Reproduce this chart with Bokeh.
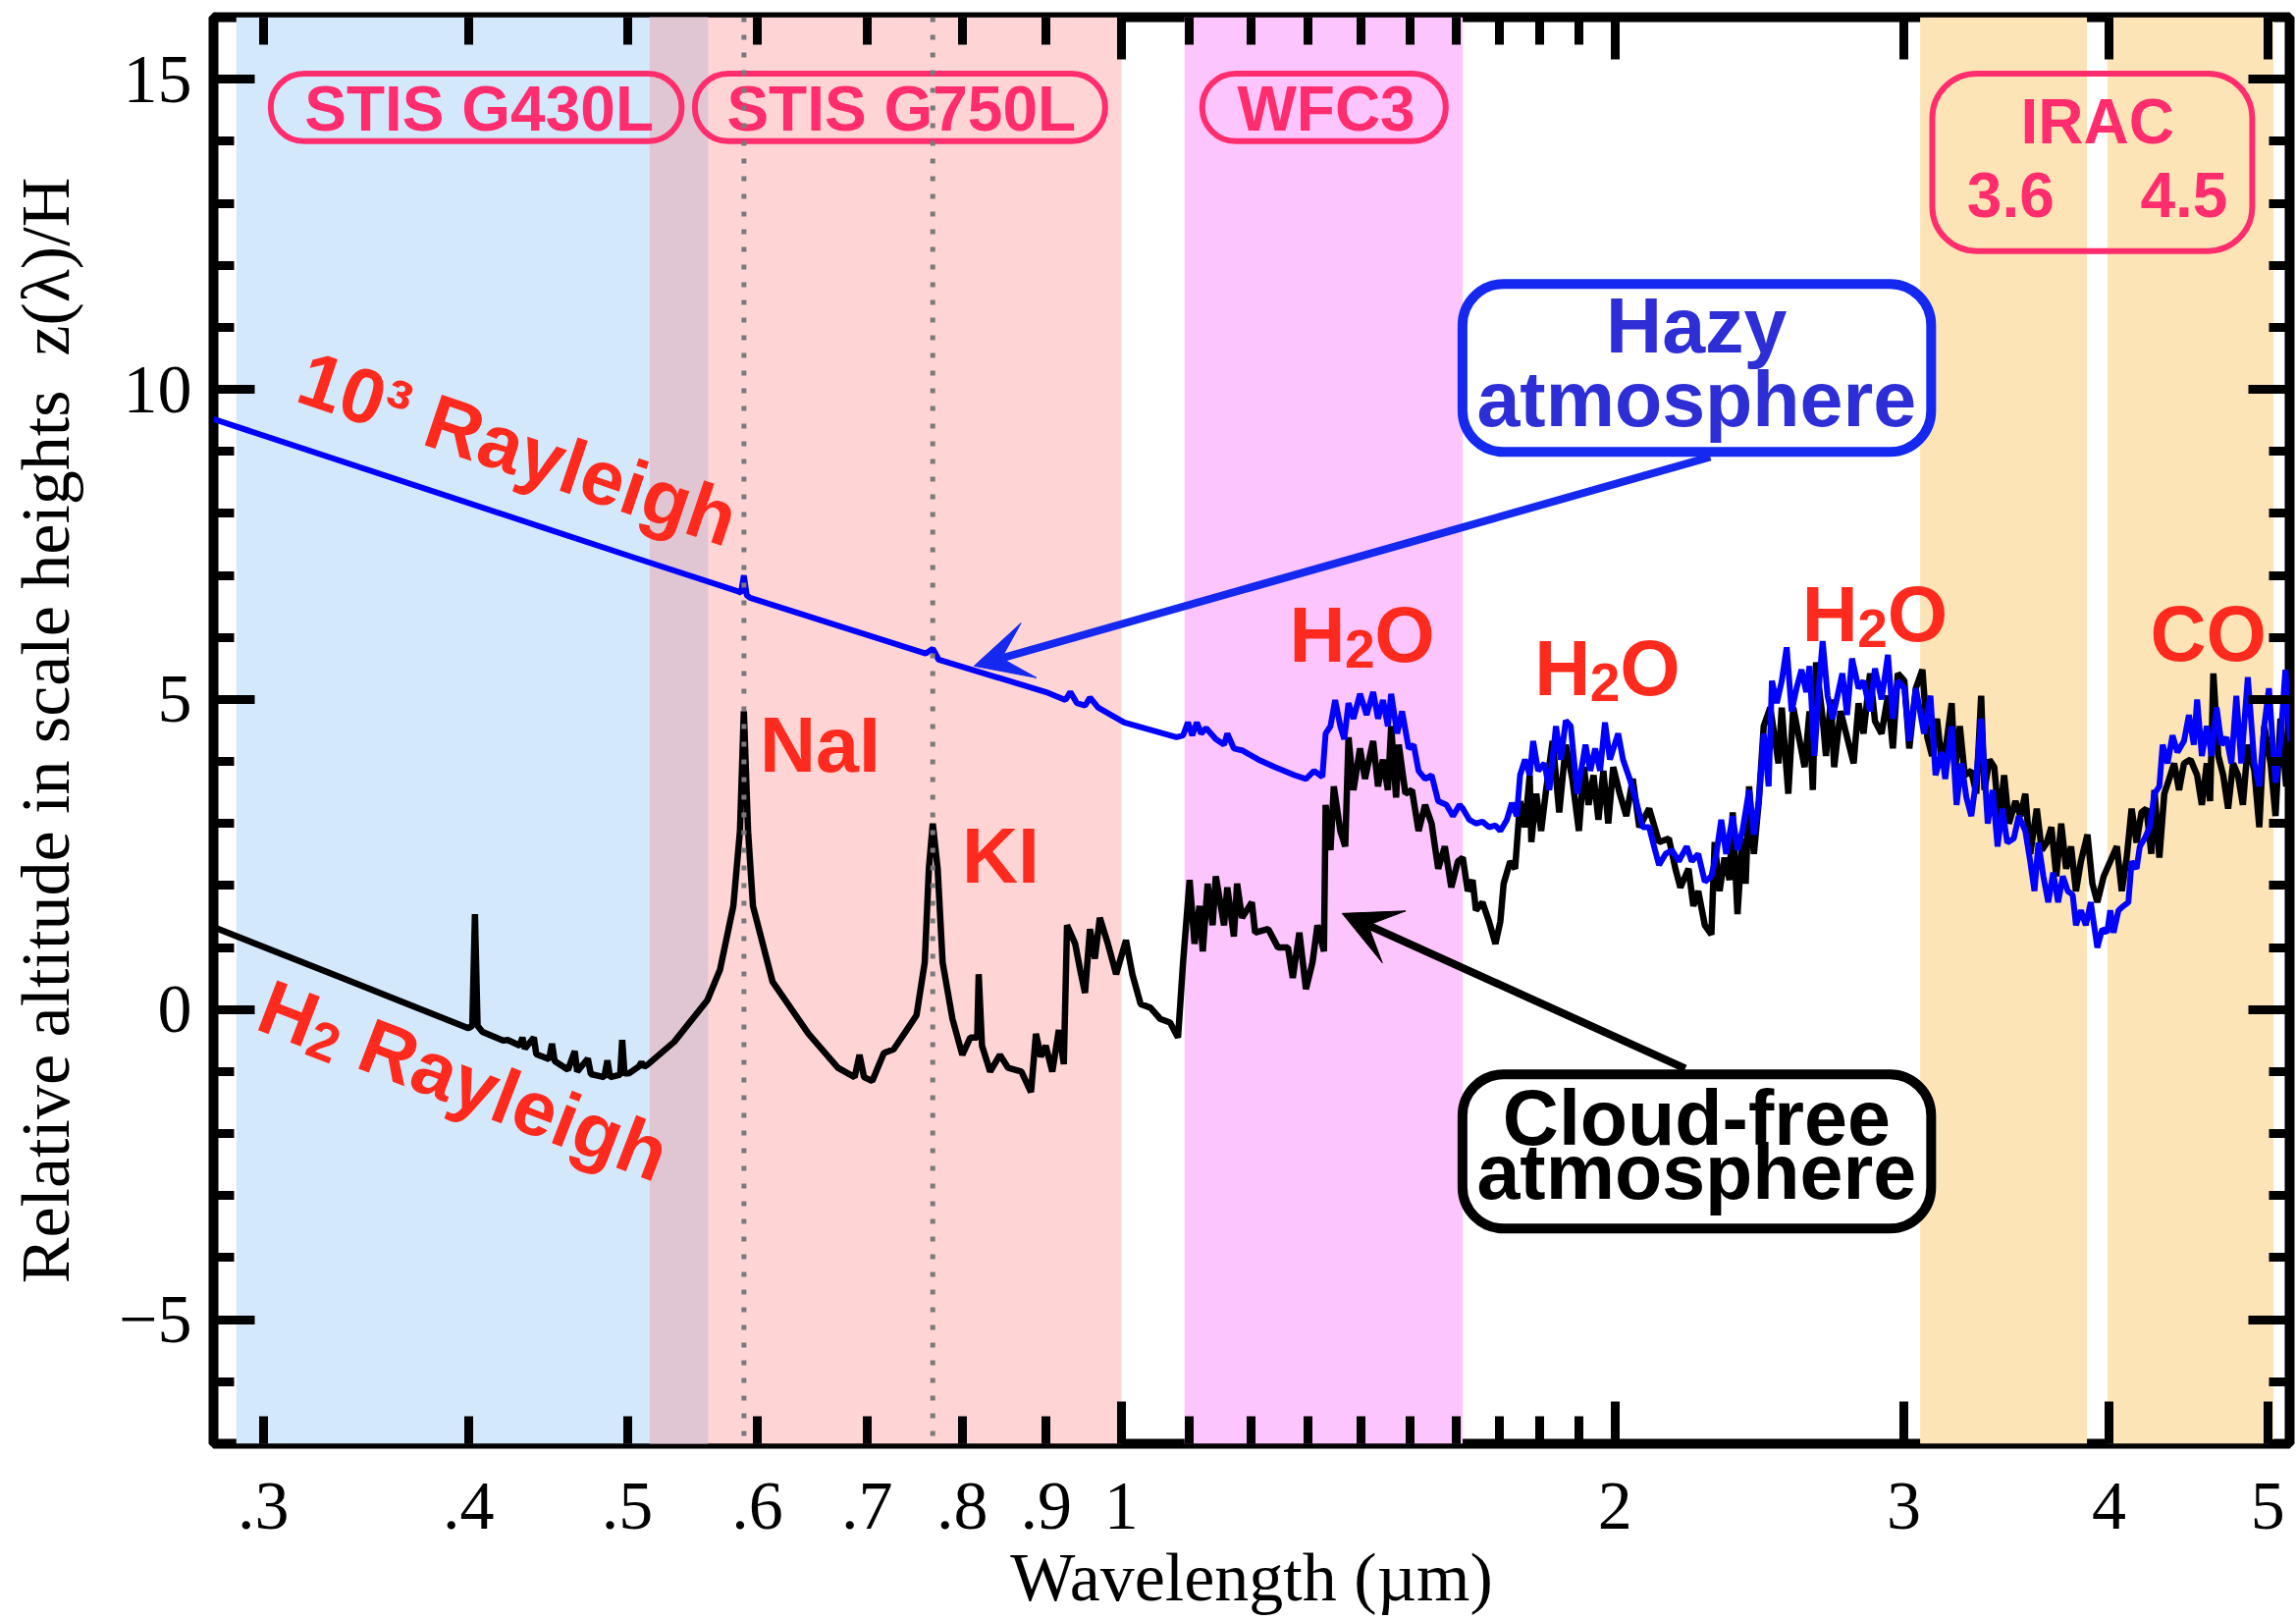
import math

from bokeh.core.properties import value
from bokeh.embed import file_html
from bokeh.models import (Arrow, BoxAnnotation, FixedTicker, LinearAxis, LogAxis,
                          Range1d, Span, VeeHead)
from bokeh.plotting import figure
from bokeh.resources import INLINE

# ---------------------------------------------------------------------------
# Transmission spectra: relative altitude z(lambda)/H versus wavelength (um)
# ---------------------------------------------------------------------------
clear_wavelength = [
    0.2797, 0.335, 0.400, 0.4022, 0.4037, 0.4052, 0.408, 0.4200, 0.4227, 0.4300,
    0.4315, 0.4330, 0.4385, 0.4400, 0.4480, 0.4498, 0.4515, 0.4600, 0.4644, 0.4660,
    0.4730, 0.4750, 0.4840, 0.4862, 0.4880, 0.4950, 0.4964, 0.4980, 0.5010, 0.5080,
    0.5100, 0.5120, 0.5148, 0.5340, 0.5594, 0.5694, 0.5802, 0.5856, 0.5888, 0.5923,
    0.5964, 0.6130, 0.6447, 0.6720, 0.6879, 0.6926, 0.6970, 0.7051, 0.7167, 0.7266,
    0.7400, 0.7503, 0.7590, 0.7634, 0.7676, 0.7729, 0.7783, 0.7891, 0.8001, 0.8092,
    0.8170, 0.8187, 0.8225, 0.8320, 0.8435, 0.8533, 0.8692, 0.8811, 0.8872, 0.8934,
    0.8995, 0.9078, 0.9162, 0.9226, 0.9268, 0.9375, 0.9440, 0.9505, 0.9571, 0.9637,
    0.9704, 0.9815, 0.9929, 1.0067, 1.0158, 1.0276, 1.0419, 1.0563, 1.0710, 1.0830,
    1.0907, 1.1008, 1.1084, 1.1161, 1.1213, 1.1290, 1.1369, 1.1420, 1.1553, 1.1606,
    1.1713, 1.1766, 1.1848, 1.2013, 1.2068, 1.2292, 1.2463, 1.2637, 1.2723, 1.2841,
    1.2960, 1.3080, 1.3171, 1.3292, 1.3323, 1.3415, 1.3477, 1.3601, 1.3695, 1.3758,
    1.3854, 1.3982, 1.4079, 1.4242, 1.4340, 1.4440, 1.4540, 1.4607, 1.4708, 1.4764,
    1.4902, 1.5040, 1.5179, 1.5320, 1.5460, 1.5604, 1.5749, 1.5894, 1.6041, 1.6152,
    1.6264, 1.6376, 1.6452, 1.6604, 1.6758, 1.6909, 1.7026, 1.7105, 1.7263, 1.7383,
    1.7504, 1.7625, 1.7742, 1.7783, 1.7906, 1.8030, 1.8155, 1.8323, 1.8493, 1.8664,
    1.8836, 1.9011, 1.9143, 1.9271, 1.9405, 1.9539, 1.9675, 1.9811, 1.9949, 2.0133,
    2.0319, 2.0503, 2.0693, 2.0981, 2.1273, 2.1569, 2.1769, 2.1920, 2.2174, 2.2323,
    2.2478, 2.2686, 2.2896, 2.3002, 2.3161, 2.3322, 2.3484, 2.3592, 2.3750, 2.3915,
    2.4025, 2.4141, 2.4303, 2.4472, 2.4641, 2.4869, 2.5157, 2.5273, 2.5507, 2.5684,
    2.5916, 2.6096, 2.6277, 2.6399, 2.6521, 2.6766, 2.6890, 2.7076, 2.7201, 2.7446,
    2.7700, 2.7956, 2.8150, 2.8345, 2.8608, 2.8806, 2.9072, 2.9335, 2.9538, 2.9743,
    3.0018, 3.0226, 3.0506, 3.0788, 3.1002, 3.1210, 3.1427, 3.1637, 3.1857, 3.2078,
    3.2226, 3.2449, 3.2674, 3.2977, 3.3205, 3.3435, 3.3590, 3.3823, 3.4057, 3.4293,
    3.4531, 3.4762, 3.5084, 3.5327, 3.5572, 3.5819, 3.6150, 3.6401, 3.6653, 3.6898,
    3.7154, 3.7411, 3.7670, 3.7931, 3.8194, 3.8459, 3.8815, 3.9084, 3.9355, 3.9711,
    4.0078, 4.0450, 4.0730, 4.1013, 4.1297, 4.1584, 4.1872, 4.2163, 4.2455, 4.2641,
    4.2937, 4.3235, 4.3535, 4.3837, 4.4141, 4.4447, 4.4858, 4.5273, 4.5576, 4.5892,
    4.6104, 4.6317, 4.6638, 4.6961, 4.7287, 4.7615, 4.7945, 4.8277, 4.8612, 4.9062,
    4.9402, 4.9745, 5.0193, 5.0541, 5.0891, 5.1300, 5.1600,
]
clear_altitude = [
    1.33, 0.51, -0.30, -0.26, 1.54, -0.26, -0.36, -0.50, -0.49, -0.58,
    -0.45, -0.63, -0.45, -0.72, -0.80, -0.55, -0.83, -0.97, -0.67, -1.00,
    -0.79, -1.04, -1.09, -0.82, -1.09, -1.05, -0.49, -1.03, -1.03, -0.92,
    -0.85, -0.92, -0.88, -0.52, 0.15, 0.64, 1.67, 2.88, 4.81, 2.88,
    1.67, 0.45, -0.39, -0.94, -1.09, -0.73, -1.09, -1.15, -0.70, -0.64,
    -0.33, -0.09, 0.76, 2.27, 3.00, 2.27, 0.76, -0.15, -0.73, -0.45,
    -0.45, 0.57, -0.58, -1.00, -0.73, -0.94, -1.00, -1.33, -0.39, -0.76,
    -0.58, -1.00, -0.33, -0.88, 1.36, 1.06, 0.64, 0.27, 1.30, 0.82,
    1.48, 1.06, 0.57, 1.12, 0.57, 0.09, 0.03, -0.15, -0.21, -0.45,
    0.76, 2.09, 1.06, 1.67, 0.94, 2.03, 1.36, 2.15, 1.36, 1.97,
    1.18, 2.03, 1.48, 1.73, 1.24, 1.30, 1.00, 1.00, 0.51, 1.24,
    0.33, 0.76, 1.36, 0.94, 3.30, 2.57, 3.60, 2.88, 2.63, 4.39,
    3.54, 4.21, 3.72, 4.33, 3.60, 4.03, 3.54, 4.57, 3.42, 4.27,
    3.48, 3.54, 2.88, 3.30, 3.00, 2.27, 2.63, 1.97, 2.39, 2.45,
    1.91, 2.09, 1.60, 1.73, 1.42, 1.06, 1.42, 2.03, 2.39, 2.27,
    3.36, 2.94, 3.78, 2.70, 3.48, 2.88, 3.54, 4.33, 3.18, 4.27,
    3.72, 2.88, 3.91, 3.30, 3.78, 3.06, 3.85, 3.00, 3.91, 3.48,
    3.12, 3.72, 2.94, 3.24, 2.70, 2.76, 2.27, 1.97, 2.27, 1.67,
    1.91, 1.36, 1.21, 2.70, 1.91, 2.45, 2.09, 3.18, 1.54, 2.76,
    2.03, 3.60, 2.51, 3.36, 4.57, 4.87, 3.97, 4.87, 3.48, 4.87,
    4.33, 3.91, 4.81, 3.54, 5.60, 4.69, 4.09, 5.00, 3.91, 4.81,
    4.39, 3.97, 4.94, 4.45, 5.42, 4.65, 4.45, 5.06, 4.21, 5.42,
    5.30, 4.21, 5.18, 5.48, 4.39, 4.09, 4.69, 3.97, 4.33, 4.94,
    3.85, 4.57, 3.78, 3.85, 3.48, 5.06, 3.54, 4.03, 3.91, 3.00,
    3.78, 3.00, 3.36, 3.12, 3.48, 2.51, 3.24, 2.57, 2.69, 2.94,
    2.15, 3.00, 2.27, 2.63, 1.91, 2.39, 2.82, 2.03, 1.73, 2.15,
    2.39, 2.63, 1.91, 2.45, 3.24, 2.69, 3.18, 3.24, 2.51, 3.54,
    2.45, 3.48, 3.72, 3.97, 3.54, 3.97, 4.03, 3.78, 3.30, 3.97,
    3.36, 5.42, 4.09, 3.78, 3.24, 3.97, 3.78, 3.30, 4.27, 3.85,
    2.94, 4.57, 3.97, 3.12, 4.69, 3.60, 4.40,
]

hazy_wavelength = [
    0.2797, 0.4457, 0.5045, 0.5830, 0.5865, 0.5888, 0.5912, 0.5940, 0.7600, 0.7676,
    0.7740, 0.8995, 0.9247, 0.9311, 0.9397, 0.9505, 0.9571, 0.9681, 0.9815, 1.0043,
    1.0419, 1.0807, 1.0907, 1.0982, 1.1048, 1.1120, 1.1187, 1.1265, 1.1420, 1.1553,
    1.1606, 1.1713, 1.1848, 1.2124, 1.2406, 1.2753, 1.2960, 1.3110, 1.3262, 1.3323,
    1.3415, 1.3502, 1.3601, 1.3676, 1.3758, 1.3854, 1.3982, 1.4112, 1.4242, 1.4340,
    1.4440, 1.4540, 1.4607, 1.4731, 1.4833, 1.4971, 1.5075, 1.5179, 1.5320, 1.5460,
    1.5604, 1.5785, 1.5931, 1.6078, 1.6152, 1.6301, 1.6452, 1.6604, 1.6758, 1.6909,
    1.7026, 1.7183, 1.7303, 1.7423, 1.7504, 1.7625, 1.7742, 1.7828, 1.7952, 1.8113,
    1.8239, 1.8408, 1.8535, 1.8664, 1.8793, 1.8967, 1.9187, 1.9316, 1.9450, 1.9584,
    1.9720, 1.9857, 2.0087, 2.0226, 2.0414, 2.0602, 2.0789, 2.0981, 2.1126, 2.1273,
    2.1470, 2.1666, 2.1870, 2.2118, 2.2272, 2.2478, 2.2686, 2.2896, 2.3055, 2.3215,
    2.3375, 2.3592, 2.3750, 2.3915, 2.4141, 2.4303, 2.4472, 2.4641, 2.4812, 2.4926,
    2.5099, 2.5273, 2.5448, 2.5625, 2.5802, 2.5982, 2.6156, 2.6277, 2.6460, 2.6643,
    2.6766, 2.6952, 2.7139, 2.7516, 2.7700, 2.7891, 2.8150, 2.8345, 2.8608, 2.8806,
    2.9072, 2.9335, 2.9538, 2.9743, 3.0018, 3.0226, 3.0506, 3.0859, 3.1138, 3.1361,
    3.1637, 3.1791, 3.2078, 3.2300, 3.2524, 3.2749, 3.2977, 3.3205, 3.3435, 3.3745,
    3.3979, 3.4214, 3.4443, 3.4683, 3.5003, 3.5246, 3.5572, 3.5819, 3.6033, 3.6234,
    3.6485, 3.6737, 3.6992, 3.7249, 3.7497, 3.7757, 3.8019, 3.8194, 3.8459, 3.8726,
    3.8994, 3.9355, 3.9628, 3.9902, 4.0078, 4.0265, 4.0544, 4.0825, 4.1108, 4.1297,
    4.1584, 4.1775, 4.2064, 4.2357, 4.2641, 4.2937, 4.3135, 4.3435, 4.3736, 4.4040,
    4.4447, 4.4755, 4.5066, 4.5273, 4.5576, 4.5892, 4.6210, 4.6530, 4.6853, 4.7178,
    4.7505, 4.7834, 4.8166, 4.8612, 4.9062, 4.9402, 4.9745, 5.0077, 5.0541, 5.0891,
    5.1243, 5.1597,
]
hazy_altitude = [
    9.52, 7.76, 7.29, 6.75, 6.72, 7.00, 6.68, 6.64, 5.74, 5.82,
    5.64, 5.12, 4.99, 5.12, 4.94, 4.90, 5.03, 4.87, 4.78, 4.63,
    4.51, 4.39, 4.42, 4.63, 4.42, 4.63, 4.45, 4.54, 4.36, 4.27,
    4.45, 4.21, 4.18, 4.03, 3.91, 3.78, 3.72, 3.85, 3.75, 4.45,
    4.57, 4.99, 4.57, 4.36, 4.94, 4.69, 5.09, 4.75, 5.12, 4.69,
    4.99, 4.57, 5.09, 4.45, 4.81, 4.21, 4.27, 3.85, 3.72, 3.78,
    3.36, 3.30, 3.12, 3.30, 3.24, 3.06, 3.00, 3.03, 2.94, 2.97,
    2.88, 3.06, 3.33, 3.12, 3.78, 4.03, 3.78, 4.33, 3.85, 3.97,
    3.54, 4.57, 4.03, 4.66, 4.57, 3.48, 4.27, 3.85, 4.21, 3.85,
    4.63, 4.03, 4.45, 4.03, 3.72, 3.36, 2.94, 2.94, 2.63, 2.33,
    2.51, 2.57, 2.39, 2.63, 2.39, 2.51, 2.06, 2.15, 2.51, 3.06,
    2.51, 3.12, 2.57, 2.88, 3.54, 2.82, 3.36, 4.45, 3.60, 5.30,
    4.94, 5.30, 5.84, 4.81, 5.18, 5.48, 5.12, 5.54, 4.09, 5.30,
    5.94, 5.06, 4.69, 5.42, 4.75, 5.66, 5.18, 5.30, 4.81, 5.50,
    5.00, 5.72, 4.69, 5.30, 5.18, 4.33, 5.18, 4.45, 5.06, 3.78,
    4.15, 3.72, 4.57, 3.30, 3.97, 3.42, 3.12, 3.72, 4.69, 3.00,
    3.54, 2.63, 3.24, 2.69, 2.76, 3.12, 2.88, 2.39, 1.91, 2.69,
    2.15, 1.73, 2.21, 1.73, 2.15, 1.91, 1.85, 1.36, 1.60, 1.36,
    1.73, 1.00, 1.30, 1.24, 1.60, 1.24, 1.60, 1.67, 1.73, 2.39,
    2.27, 2.63, 2.76, 2.94, 3.48, 3.60, 4.27, 3.97, 4.42, 4.15,
    4.33, 4.75, 4.27, 5.00, 4.09, 4.57, 4.09, 4.87, 4.27, 4.39,
    3.97, 5.06, 3.97, 5.36, 3.97, 3.60, 4.57, 5.18, 3.66, 4.33,
    5.48, 4.33,
]

# Instrument wavelength coverage (um)
g430l_range = (0.2888, 0.560)
g750l_range = (0.5159, 1.0003)
wfc3_range = (1.093, 1.615)
irac36_range = (3.069, 3.879)
irac45_range = (3.992, 5.04)

# Alkali resonance lines (um)
na_line = 0.5889
k_line = 0.7676

# Axis ticks
xtick_values = [0.3, 0.4, 0.5, 0.6, 0.7, 0.8, 0.9, 1, 2, 3, 4, 5]
xtick_labels = [".3", ".4", ".5", ".6", ".7", ".8", ".9", "1", "2", "3", "4", "5"]
x_long_ticks = [1, 2, 3, 4, 5]
x_short_ticks = [0.3, 0.4, 0.5, 0.6, 0.7, 0.8, 0.9,
                 1.1, 1.2, 1.3, 1.4, 1.5, 1.6, 1.7, 1.8, 1.9]
ytick_values = [-5, 0, 5, 10, 15]
ytick_labels = ["\u22125", "0", "5", "10", "15"]
y_minor_ticks = list(range(-7, 17))

# ---------------------------------------------------------------------------
SERIF = "Liberation Serif"
SANS = "Liberation Sans"
RED = "#FF2A1E"
PINK = "#FF2D6E"
BLUE_LINE = "#0000FF"
BLUE_BOX = "#1428F0"
BLUE_TEXT = "#2E2ED6"

p = figure(
    width=2339, height=1650,
    x_axis_type="log",
    x_range=Range1d(0.2797, 5.155), y_range=Range1d(-7, 16),
    output_backend="svg", toolbar_location=None,
    min_border_left=217, min_border_right=7, min_border_top=17, min_border_bottom=180,
)
p.xgrid.visible = False
p.ygrid.visible = False
p.background_fill_color = "white"
p.border_fill_color = "white"
p.outline_line_color = "black"
p.outline_line_width = 10

# Instrument bands
overlap = (max(g430l_range[0], g750l_range[0]), min(g430l_range[1], g750l_range[1]))
for (lo, hi), col in [
    (g430l_range, "#D4E8FC"),
    (g750l_range, "#FED4D4"),
    (overlap, "#E0C6D2"),
    (wfc3_range, "#FDC5FD"),
    (irac36_range, "#FCE4B6"),
    (irac45_range, "#FCE4B6"),
]:
    p.add_layout(BoxAnnotation(left=lo, right=hi, fill_color=col, fill_alpha=1.0,
                               line_color=None, level="underlay"))

# Instrument name tags
p.quad(left=[0.3031, 0.5497, 1.1205], right=[0.5396, 0.9777, 1.577],
       bottom=[14.00, 14.00, 14.00], top=[15.09, 15.09, 15.09],
       fill_color=None, line_color=PINK, line_width=6, border_radius=34)
p.quad(left=[3.1219], right=[4.8915], bottom=[12.23], top=[15.09],
       fill_color=None, line_color=PINK, line_width=6, border_radius=45)
p.text(x=[0.4061, 0.7345, 1.3334, 3.9366, 3.4850, 4.4447],
       y=[14.525, 14.525, 14.525, 14.31, 13.13, 13.13],
       text=["STIS G430L", "STIS G750L", "WFC3", "IRAC", "3.6", "4.5"],
       text_font=value(SANS), text_font_style="bold", text_font_size="64px",
       text_color=PINK, text_align="center", text_baseline="middle")

# Spectra
p.line(clear_wavelength, clear_altitude, line_color="black", line_width=6.5)
p.line(hazy_wavelength, hazy_altitude, line_color=BLUE_LINE, line_width=6)

# Species labels
red_style = dict(text_font=value(SANS), text_font_style="bold", text_color=RED,
                 text_align="center", text_baseline="middle")
p.text(x=[0.6553, 0.8445, 4.600], y=[4.27, 2.48, 6.06], text=["NaI", "KI", "CO"],
       text_font_size="79px", **red_style)

# H2O labels: letters at full size, the subscript smaller and lowered
h2o_x = [1.4058, 1.9835, 2.8872]
h2o_y = [6.04, 5.50, 6.37]
p.text(x=h2o_x, y=h2o_y, text=["H"] * 3, x_offset=-47.5, text_font_size="79px", **red_style)
p.text(x=h2o_x, y=h2o_y, text=["O"] * 3, x_offset=41.6, text_font_size="79px", **red_style)
p.text(x=h2o_x, y=h2o_y, text=["2"] * 3, x_offset=-4.2, y_offset=14.2,
       text_font_size="55px", **red_style)

p.text(x=[0.429], y=[9.05], text=["10\u00b3 Rayleigh"], angle=math.radians(-18.7),
       text_font_size="79px", **red_style)

# "H2 Rayleigh" along the molecular Rayleigh slope
tilt = math.radians(21)
along = (math.cos(tilt), math.sin(tilt))
drop = (-math.sin(tilt), math.cos(tilt))
h2_parts = [("H", "79px", -190.9, 0.0), ("2", "55px", -147.6, 14.2),
            ("Rayleigh", "79px", 54.8, 0.0)]
for txt, size, a, d in h2_parts:
    p.text(x=[0.3975], y=[-1.14], text=[txt], angle=-tilt,
           x_offset=a * along[0] + d * drop[0], y_offset=a * along[1] + d * drop[1],
           text_font_size=size, **red_style)

# Model call-outs
p.quad(left=[1.6145], right=[3.1169], bottom=[8.99], top=[11.70],
       fill_color="white", line_color=BLUE_BOX, line_width=10, border_radius=42)
p.quad(left=[1.6145], right=[3.1169], bottom=[-3.53], top=[-1.044],
       fill_color="white", line_color="black", line_width=10, border_radius=42)
p.text(x=[2.2424, 2.2424], y=[11.03, 9.84], text=["Hazy", "atmosphere"],
       text_font=value(SANS), text_font_style="bold", text_font_size="79px",
       text_color=BLUE_TEXT, text_align="center", text_baseline="middle")
p.text(x=[2.2424, 2.2424], y=[-1.74, -2.61], text=["Cloud-free", "atmosphere"],
       text_font=value(SANS), text_font_style="bold", text_font_size="79px",
       text_color="black", text_align="center", text_baseline="middle")

p.add_layout(Arrow(end=VeeHead(size=58, fill_color=BLUE_BOX, line_color=BLUE_BOX),
                   x_start=2.2861, y_start=8.91, x_end=0.8134, y_end=5.54,
                   line_color=BLUE_BOX, line_width=8))
p.add_layout(Arrow(end=VeeHead(size=58, fill_color="black", line_color="black"),
                   x_start=2.2071, y_start=-0.95, x_end=1.3636, y_end=1.55,
                   line_color="black", line_width=8))

# Na and K line markers
for loc in (na_line, k_line):
    p.add_layout(Span(location=loc, dimension="height", line_color="#7A7A7A",
                      line_width=5, line_dash="5 13"))


def style_ticks(ax, major_in, minor_in):
    ax.axis_line_color = None
    ax.major_tick_in = major_in
    ax.major_tick_out = 0
    ax.minor_tick_in = minor_in
    ax.minor_tick_out = 0
    ax.major_tick_line_width = 9
    ax.minor_tick_line_width = 9
    ax.major_tick_line_color = "black"
    ax.minor_tick_line_color = "black"


def hide_labels(ax):
    ax.major_label_text_font_size = "0px"
    ax.major_label_text_color = None
    ax.major_label_standoff = 0


# Left axis with labels
yl = p.yaxis[0]
yl.ticker = FixedTicker(ticks=ytick_values, minor_ticks=y_minor_ticks)
style_ticks(yl, 42, 21)
yl.major_label_overrides = dict(zip(ytick_values, ytick_labels))
yl.major_label_text_font = SERIF
yl.major_label_text_font_size = "70px"
yl.major_label_text_color = "black"
yl.major_label_standoff = 22
yl.axis_label = "Relative altitude in scale heights\u00a0\u00a0z(\u03bb)/H"
yl.axis_label_text_font = SERIF
yl.axis_label_text_font_size = "70px"
yl.axis_label_text_font_style = "normal"
yl.axis_label_text_color = "black"
yl.axis_label_standoff = 33

# Right axis: ticks only
yr = LinearAxis(ticker=FixedTicker(ticks=ytick_values, minor_ticks=y_minor_ticks))
style_ticks(yr, 42, 21)
hide_labels(yr)
p.add_layout(yr, "right")

# Bottom: tick marks on the frame edge, labels on a second axis
xt = p.xaxis[0]
xt.ticker = FixedTicker(ticks=x_long_ticks, minor_ticks=x_short_ticks)
style_ticks(xt, 43, 28)
hide_labels(xt)

xl = LogAxis(ticker=FixedTicker(ticks=xtick_values, minor_ticks=[]))
xl.axis_line_color = None
xl.major_tick_line_color = None
xl.minor_tick_line_color = None
xl.major_tick_in = 0
xl.major_tick_out = 0
xl.minor_tick_in = 0
xl.minor_tick_out = 0
xl.major_label_overrides = dict(zip(xtick_values, xtick_labels))
xl.major_label_text_font = SERIF
xl.major_label_text_font_size = "70px"
xl.major_label_text_color = "black"
xl.major_label_standoff = 40
xl.axis_label = "Wavelength (\u00b5m)"
xl.axis_label_text_font = SERIF
xl.axis_label_text_font_size = "70px"
xl.axis_label_text_font_style = "normal"
xl.axis_label_text_color = "black"
xl.axis_label_standoff = 8
p.add_layout(xl, "below")

# Top axis: ticks only
xtop = LogAxis(ticker=FixedTicker(ticks=x_long_ticks, minor_ticks=x_short_ticks))
style_ticks(xtop, 43, 28)
hide_labels(xtop)
p.add_layout(xtop, "above")

open("out.html", "w").write(file_html(p, INLINE))
